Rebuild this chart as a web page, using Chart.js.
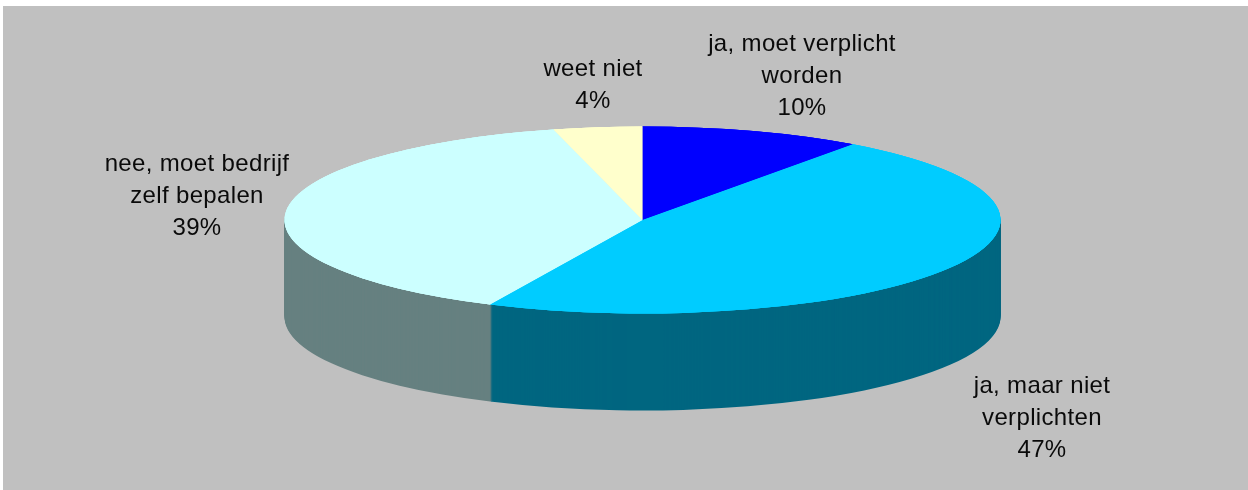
<!DOCTYPE html>
<html><head><meta charset="utf-8">
<style>
html,body{margin:0;padding:0;background:#fff;overflow:hidden}
#wrap{position:absolute;left:0;top:0;width:1248px;height:490px}
</style>
<script src="https://cdn.jsdelivr.net/npm/chart.js@4"></script>
</head><body><div id="wrap"><canvas id="c" width="1248" height="490"></canvas></div>
<script>
const categories = ["ja, moet verplicht worden","ja, maar niet verplichten","nee, moet bedrijf zelf bepalen","weet niet"];
const values = [10,47,39,4];
const topColors = ["#0000FF","#00CCFF","#CCFFFF","#FFFFCC"];
const sideColors = ["#000080","#006680","#668080","#808066"];
const labelLines = [["ja, moet verplicht","worden","10%"],["ja, maar niet","verplichten","47%"],["nee, moet bedrijf","zelf bepalen","39%"],["weet niet","4%"]];
const labelCenters = [[802,44],[1042,386],[197,164],[593,69]];

const ELL = {cx:642.5, cy:220, rx:358, ry:93.5, depth:97};
function applyEllipse(ctx, arc, dy){
  const sx = ELL.rx/arc.outerRadius, sy = ELL.ry/arc.outerRadius;
  ctx.translate(ELL.cx, ELL.cy+dy);
  ctx.scale(sx, sy);
  ctx.translate(-arc.x, -arc.y);
}
const pie3d = {
  id:'pie3d',
  beforeDraw(chart){
    const {ctx,width,height}=chart;
    ctx.save();
    ctx.fillStyle='#fff'; ctx.fillRect(0,0,width,height);
    ctx.fillStyle='#C0C0C0'; ctx.fillRect(3,6,width-3,height-6);
    ctx.restore();
  },
  beforeDatasetsDraw(chart){
    const {ctx}=chart, arcs=chart.getDatasetMeta(0).data;
    for(let d=ELL.depth;d>0;d-=1){
      arcs.forEach((a,i)=>{
        const o=a.options, bg=o.backgroundColor, bc=o.borderColor;
        o.backgroundColor=sideColors[i]; o.borderColor=sideColors[i];
        ctx.save(); applyEllipse(ctx,a,d); a.draw(ctx); ctx.restore();
        o.backgroundColor=bg; o.borderColor=bc;
      });
    }
    ctx.save(); applyEllipse(ctx,arcs[0],0);
    // underlay in the top colours closes antialiased seams between slices
    arcs.forEach(a=>a.draw(ctx));
    arcs.slice().reverse().forEach(a=>a.draw(ctx));
  },
  afterDatasetsDraw(chart){
    const {ctx}=chart;
    ctx.restore();
    ctx.save();
    ctx.fillStyle='#0a0a0a'; ctx.font='24px "Liberation Sans", Arial, sans-serif';
    ctx.letterSpacing='0.35px';
    ctx.textAlign='center'; ctx.textBaseline='middle';
    labelLines.forEach((lines,i)=>{
      lines.forEach((t,j)=>ctx.fillText(t,labelCenters[i][0],labelCenters[i][1]+j*32));
    });
    ctx.restore();
  }
};
new Chart(document.getElementById('c'),{
  type:'pie',
  data:{labels:categories,datasets:[{data:values,backgroundColor:topColors,borderWidth:0}]},
  options:{responsive:false,animation:false,
    plugins:{legend:{display:false},tooltip:{enabled:false}}},
  plugins:[pie3d]
});
</script></body></html>
